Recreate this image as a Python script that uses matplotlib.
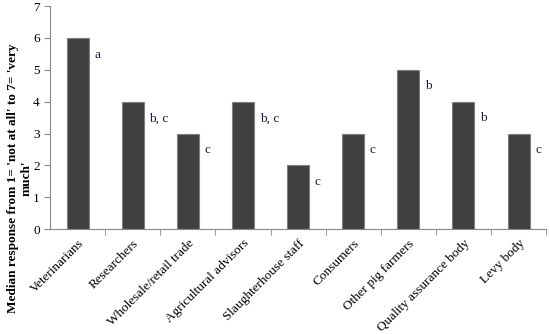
import numpy as np
import matplotlib.pyplot as plt

# Median responses per information source
categories = ["Veterinarians", "Researchers", "Wholesale/retail trade",
              "Agricultural advisors", "Slaughterhouse staff", "Consumers",
              "Other pig farmers", "Quality assurance body", "Levy body"]
medians = [6, 4, 3, 4, 2, 3, 5, 4, 3]
letters = ["a", "b, c", "c", "b, c", "c", "c", "b", "b", "c"]

plt.rcParams['font.family'] = ['Liberation Serif', 'DejaVu Serif']

fig = plt.figure(figsize=(5.5, 3.34), dpi=100)
ax = fig.add_axes([0.091, 0.314, 0.902, 0.668])

x = np.arange(len(categories))
ax.bar(x, medians, width=0.4, color='#404040', edgecolor='#808080', linewidth=0.8)

for xi, v, lab in zip(x, medians, letters):
    ax.annotate(lab, (xi + 0.2, v), xytext=(4, -12), textcoords='offset points',
                fontsize=9.5, color='#1a1a3a', ha='left', va='center')

ax.set_xlim(-0.5, len(categories) - 0.5)
ax.set_ylim(0, 7)
ax.set_yticks(range(8))
ax.set_xticks(x)
ax.set_xticklabels(categories, rotation=45, ha='right', rotation_mode='anchor', fontsize=9.5)
ax.tick_params(axis='x', length=0, pad=6)
ax.set_xticks(np.arange(0.5, len(categories), 1.0), minor=True)
ax.tick_params(axis='x', which='minor', length=4, color='#888888', direction='out')
ax.tick_params(axis='y', length=4, color='#888888', labelsize=9.5, direction='out')

for s in ['top', 'right']:
    ax.spines[s].set_visible(False)
for s in ['left', 'bottom']:
    ax.spines[s].set_color('#888888')

ax.set_ylabel("Median response from 1= 'not at all' to 7= 'very\nmuch'",
              fontsize=9.5, fontweight='bold', linespacing=1.15)
ax.yaxis.set_label_coords(-0.036, 0.23)

fig.savefig('out.png', dpi=100)
